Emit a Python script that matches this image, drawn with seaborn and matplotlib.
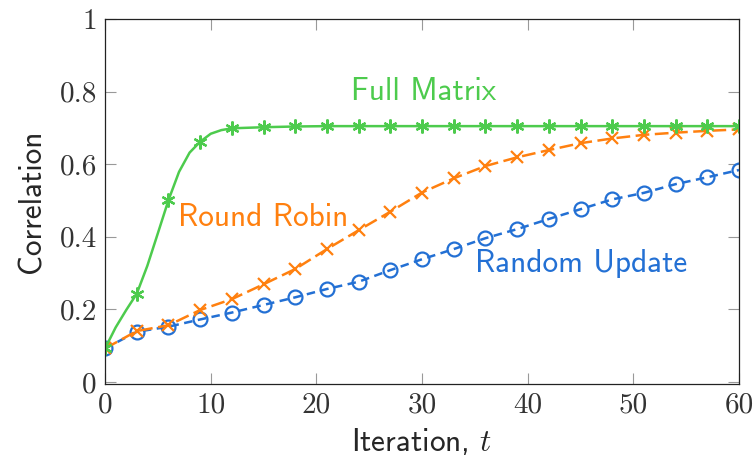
import numpy as np
import pandas as pd
import matplotlib
matplotlib.use("Agg")
import matplotlib.pyplot as plt
import seaborn as sns

# data
iters = [0, 3, 6, 9, 12, 15, 18, 21, 24, 27, 30, 33, 36, 39, 42, 45, 48, 51, 54, 57, 60]
round_robin = [0.092, 0.140, 0.156, 0.198, 0.228, 0.269, 0.311, 0.366, 0.418, 0.469, 0.522,
               0.561, 0.595, 0.619, 0.639, 0.658, 0.671, 0.681, 0.687, 0.692, 0.696]
random_update = [0.092, 0.138, 0.152, 0.172, 0.191, 0.212, 0.233, 0.256, 0.276, 0.308, 0.338,
                 0.366, 0.396, 0.421, 0.449, 0.476, 0.503, 0.521, 0.545, 0.564, 0.584]
full_iters = [0, 1, 2, 3, 4, 5, 6, 7, 8, 9, 10, 11, 12, 15, 18, 21, 24, 27, 30,
              33, 36, 39, 42, 45, 48, 51, 54, 57, 60]
full_matrix = [0.092, 0.150, 0.198, 0.243, 0.320, 0.410, 0.501, 0.579, 0.632, 0.662, 0.684,
               0.694, 0.699, 0.702, 0.704, 0.705, 0.705, 0.705, 0.705, 0.705, 0.705,
               0.705, 0.705, 0.705, 0.705, 0.705, 0.705, 0.705, 0.705]
x_ticks = [0, 10, 20, 30, 40, 50, 60]
y_ticks = [0, 0.2, 0.4, 0.6, 0.8, 1]
y_ticklabels = ["0", "0.2", "0.4", "0.6", "0.8", "1"]

green = "#4dcb4d"
orange = "#ff800f"
blue = "#2370d4"

sns.set_theme(style="ticks")
plt.rcParams["font.family"] = ["cmss10", "DejaVu Sans"]
plt.rcParams["mathtext.fontset"] = "cm"
plt.rcParams["axes.unicode_minus"] = False

fig = plt.figure(figsize=(7.56, 4.61), dpi=100)
ax = fig.add_axes([0.139, 0.167, 0.8385, 0.7915])

df_full = pd.DataFrame({"t": full_iters, "v": full_matrix})
df_rr = pd.DataFrame({"t": iters, "v": round_robin})
df_ru = pd.DataFrame({"t": iters, "v": random_update})

mark_full = [i for i, t in enumerate(full_iters) if t % 3 == 0]

sns.lineplot(data=df_ru, x="t", y="v", ax=ax, color=blue, lw=1.8,
             marker="o", markersize=10, fillstyle="none",
             markeredgewidth=1.6, markeredgecolor=blue)
ax.lines[-1].set_dashes([3.4, 2.2])
sns.lineplot(data=df_rr, x="t", y="v", ax=ax, color=orange, lw=1.8,
             marker="x", markersize=8.5, markeredgewidth=1.6, markeredgecolor=orange)
ax.lines[-1].set_dashes([5.5, 2.2])
sns.lineplot(data=df_full, x="t", y="v", ax=ax, color=green, lw=1.8,
             marker=(6, 2, 0), markersize=10, markeredgewidth=1.6,
             markeredgecolor=green, markevery=mark_full)

ax.text(30.1, 0.80, "Full Matrix", color=green, fontsize=22.5, ha="center", va="center")
ax.text(15.0, 0.452, "Round Robin", color=orange, fontsize=22.5, ha="center", va="center")
ax.text(45.1, 0.327, "Random Update", color=blue, fontsize=22.5, ha="center", va="center")

ax.set_xlim(0, 60)
ax.set_ylim(-0.006, 1.0)
ax.set_xticks(x_ticks)
ax.set_xticklabels([str(v) for v in x_ticks], family="cmr10", fontsize=21, color="#333333")
ax.set_yticks(y_ticks)
ax.set_yticklabels(y_ticklabels, family="cmr10", fontsize=21, color="#333333")
ax.tick_params(direction="in", length=8, width=0.8, color="#999999",
               top=True, right=True, pad=6)
for s in ax.spines.values():
    s.set_visible(True)
    s.set_linewidth(0.9)
    s.set_color("#222222")

ax.set_xlabel("Iteration, $t$", fontsize=22.5, labelpad=5)
ax.set_ylabel("Correlation", fontsize=22.5, labelpad=9)

fig.savefig("out.png", dpi=100)
